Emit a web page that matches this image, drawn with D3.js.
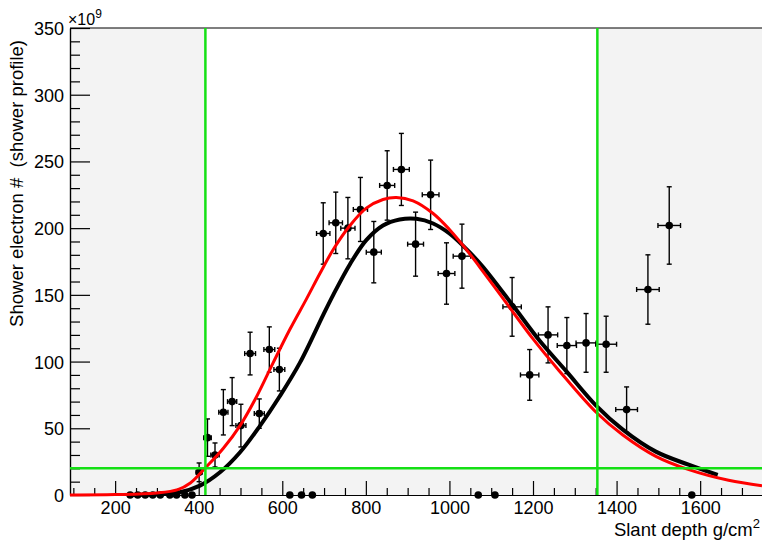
<!DOCTYPE html>
<html>
<head>
<meta charset="utf-8">
<script src="https://cdn.jsdelivr.net/npm/d3@7"></script>
<style>
  body { margin: 0; background: #fff; }
  svg { display: block; font-family: "Liberation Sans", Arial, sans-serif; }
</style>
</head>
<body>
<svg width="762" height="543"></svg>
<script>
(function(){
    'use strict';

    // axis ticks
    const xTicks = [200, 400, 600, 800, 1000, 1200, 1400, 1600];
    const yTicks = [0, 50, 100, 150, 200, 250, 300, 350];

    // shower profile points (x10^9)
    const depth = [236, 254, 272, 290, 308, 331, 347, 367, 384,
        401, 421, 439, 459, 480, 501, 523, 545, 569, 593,
        618, 646, 672,
        698, 728, 757, 787, 819, 851, 885, 919, 955, 993, 1030,
        1069, 1109,
        1150, 1192, 1236, 1281, 1327, 1375, 1424, 1475, 1526, 1580];
    const electrons = [0, 0, 0, 0, 0, 0, 0, 0, 0,
        17, 43, 30, 62, 70, 52, 106, 61, 109, 94,
        0, 0, 0,
        196, 204, 200, 214, 182, 232, 244, 188, 225, 166, 179,
        0, 0,
        141, 90, 120, 112, 114, 113, 64, 154, 202, 0];
    const depthErr = [0, 0, 0, 0, 0, 0, 0, 0, 0,
        7, 9, 10, 11, 11, 12, 13, 12, 13, 13,
        0, 0, 0,
        16, 16, 17, 17, 18, 18, 19, 19, 20, 20, 21,
        0, 0,
        22, 22, 23, 23, 24, 25, 26, 27, 27, 0];
    const electronErr = [0, 0, 0, 0, 0, 0, 0, 0, 0,
        7, 14, 9, 17, 18, 16, 16, 11, 17, 16,
        0, 0, 0,
        23, 23, 23, 24, 23, 26, 27, 24, 26, 23, 24,
        0, 0,
        22, 19, 21, 21, 22, 21, 17, 26, 29, 0];

    // fitted profiles
    const blackDepth = [229, 300, 355, 403, 451, 499, 547, 594, 642, 698, 722, 762, 801, 841, 881, 921, 961, 1000, 1048, 1080, 1152, 1215, 1279, 1351, 1415, 1494, 1574, 1642];
    const blackFit   = [0, 0.5, 2, 7, 17, 32, 52, 74, 99, 135, 150, 173, 191, 202, 206.5, 207, 203.5, 196, 182, 171, 142, 116, 93, 67, 49, 32.5, 22.5, 15];
    const redDepth = [92, 200, 300, 350, 380, 415, 459, 499, 539, 578, 618, 658, 690, 722, 762, 801, 841, 873, 913, 961, 1000, 1048, 1072, 1136, 1200, 1263, 1351, 1415, 1494, 1573, 1668, 1748];
    const redFit   = [0, 0.3, 1.5, 4, 9, 20, 35, 52, 74, 99, 124, 147, 166, 184, 202, 215, 221.5, 223, 220.5, 211, 199, 181, 171, 144, 117, 93, 62, 45, 29, 19, 11, 7];

    // selection cuts
    const cutLow = 416, cutHigh = 1354, cutMin = 20;

    const svg = d3.select('svg');
    const x = d3.scaleLinear().domain([92, 1748]).range([70, 762]);
    const y = d3.scaleLinear().domain([0, 350]).range([495, 28]);

    // frame background + selected window
    svg.append('rect')
        .attr('x', x(92)).attr('y', y(350))
        .attr('width', x(1748) - x(92)).attr('height', y(0) - y(350))
        .attr('fill', '#f3f3f3');
    svg.append('rect')
        .attr('x', x(cutLow)).attr('y', y(350))
        .attr('width', x(cutHigh) - x(cutLow)).attr('height', y(cutMin) - y(350))
        .attr('fill', '#fff');

    // minor ticks
    const xMinor = d3.range(100, 1748, 50).filter(v => v % 200 !== 0);
    const yMinor = d3.range(0, 351, 10).filter(v => v % 50 !== 0);

    svg.append('g')
        .attr('transform', 'translate(0,' + y(0) + ')')
        .call(d3.axisBottom(x).tickValues(xMinor).tickSize(-7).tickSizeOuter(0).tickFormat(''));
    svg.append('g')
        .attr('transform', 'translate(' + x(92) + ',0)')
        .call(d3.axisLeft(y).tickValues(yMinor).tickSize(-10).tickSizeOuter(0).tickFormat(''));

    const xAxis = svg.append('g')
        .attr('transform', 'translate(0,' + y(0) + ')')
        .call(d3.axisBottom(x).tickValues(xTicks).tickSize(-14).tickSizeOuter(0)
            .tickPadding(6).tickFormat(d3.format('d')));
    const yAxis = svg.append('g')
        .attr('transform', 'translate(' + x(92) + ',0)')
        .call(d3.axisLeft(y).tickValues(yTicks).tickSize(-20).tickSizeOuter(0)
            .tickPadding(6).tickFormat(d3.format('d')));

    svg.selectAll('.tick line, .domain').attr('stroke', '#000').attr('stroke-width', 1.2);
    xAxis.selectAll('text').style('font-size', '18px').attr('fill', '#000').attr('font-family', null);
    yAxis.selectAll('text').style('font-size', '18px').attr('fill', '#000').attr('dy', '0.36em').attr('font-family', null);

    // top frame line
    svg.append('line')
        .attr('x1', x(92)).attr('x2', x(1748))
        .attr('y1', y(350)).attr('y2', y(350))
        .attr('stroke', '#000').attr('stroke-width', 1.2);

    // data points with error bars
    const pts = depth.map((d, i) => ({ x: d, y: electrons[i], ex: depthErr[i], ey: electronErr[i] }));
    const g = svg.append('g').attr('stroke', '#000').attr('stroke-width', 1.4);
    const cap = 2.5;

    pts.filter(d => d.ey > 0).forEach(d => {
        g.append('line')
            .attr('x1', x(d.x)).attr('x2', x(d.x))
            .attr('y1', y(d.y - d.ey)).attr('y2', y(d.y + d.ey));
        g.append('line')
            .attr('x1', x(d.x - d.ex)).attr('x2', x(d.x + d.ex))
            .attr('y1', y(d.y)).attr('y2', y(d.y));
        [d.y - d.ey, d.y + d.ey].forEach(v => {
            g.append('line')
                .attr('x1', x(d.x) - cap).attr('x2', x(d.x) + cap)
                .attr('y1', y(v)).attr('y2', y(v));
        });
        [d.x - d.ex, d.x + d.ex].forEach(v => {
            g.append('line')
                .attr('x1', x(v)).attr('x2', x(v))
                .attr('y1', y(d.y) - cap).attr('y2', y(d.y) + cap);
        });
    });

    svg.selectAll('circle')
        .data(pts)
        .join('circle')
        .attr('cx', d => x(d.x))
        .attr('cy', d => y(d.y))
        .attr('r', 3.8)
        .attr('fill', '#000');

    // fit curves
    const line = d3.line()
        .x(d => x(d[0]))
        .y(d => y(d[1]))
        .curve(d3.curveCatmullRom.alpha(0.5));

    svg.append('path')
        .datum(blackDepth.map((d, i) => [d, blackFit[i]]))
        .attr('d', line)
        .attr('fill', 'none')
        .attr('stroke', '#000')
        .attr('stroke-width', 4);

    svg.append('path')
        .datum(redDepth.map((d, i) => [d, redFit[i]]))
        .attr('d', line)
        .attr('fill', 'none')
        .attr('stroke', '#ff0000')
        .attr('stroke-width', 3);

    // cut lines
    const green = '#14e014';
    [cutLow, cutHigh].forEach(v => {
        svg.append('line')
            .attr('x1', x(v)).attr('x2', x(v))
            .attr('y1', y(350)).attr('y2', y(0))
            .attr('stroke', green).attr('stroke-width', 2.5);
    });
    svg.append('line')
        .attr('x1', x(92)).attr('x2', x(1748))
        .attr('y1', y(cutMin)).attr('y2', y(cutMin))
        .attr('stroke', green).attr('stroke-width', 2.5);

    // titles
    const xt = svg.append('text')
        .attr('x', 760).attr('y', 536)
        .attr('text-anchor', 'end')
        .style('font-size', '18.5px');
    xt.append('tspan').text('Slant depth g/cm');
    xt.append('tspan').attr('dy', -8).style('font-size', '13px').text('2');

    svg.append('text')
        .attr('transform', 'translate(23,40) rotate(-90)')
        .attr('text-anchor', 'end')
        .style('font-size', '18.5px')
        .style('white-space', 'pre')
        .text('Shower electron #  (shower profile)');

    const ex = svg.append('text')
        .attr('x', 68).attr('y', 25)
        .style('font-size', '16px');
    ex.append('tspan').text('\u00d710');
    ex.append('tspan').attr('dy', -7).style('font-size', '12px').text('9');
})();
</script>
</body>
</html>
